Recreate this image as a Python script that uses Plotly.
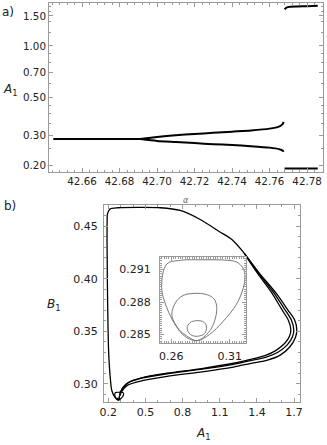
import plotly.graph_objects as go

# ---------------- data: panel a) bifurcation diagram ----------------
alpha_stable = [42.6447, 42.66, 42.68, 42.691]
A_stable = [0.284, 0.284, 0.284, 0.284]

alpha_branch = [42.691, 42.70, 42.71, 42.72, 42.73, 42.74, 42.75, 42.76, 42.765, 42.767, 42.7675]
A_upper = [0.284, 0.292, 0.299, 0.304, 0.309, 0.314, 0.319, 0.327, 0.336, 0.348, 0.358]
A_lower = [0.284, 0.277, 0.273, 0.269, 0.265, 0.262, 0.258, 0.253, 0.248, 0.243, 0.239]

alpha_jump = [42.768, 42.769, 42.771, 42.775, 42.780, 42.7857]
A_jump_high = [1.64, 1.68, 1.70, 1.705, 1.712, 1.72]
A_jump_low = [0.191, 0.191, 0.191, 0.191, 0.191, 0.191]

a_xticks = [42.66, 42.68, 42.70, 42.72, 42.74, 42.76, 42.78]
a_xticklabels = ["42.66", "42.68", "42.70", "42.72", "42.74", "42.76", "42.78"]
a_yticks = [0.2, 0.3, 0.5, 0.7, 1.0, 1.5]
a_yticklabels = ["0.20", "0.30", "0.50", "0.70", "1.00", "1.50"]

# ---------------- data: panel b) limit cycle in (A1, B1) ----------------
# outer strand, full loop
A1_loop = [0.284, 0.255, 0.228, 0.214, 0.202, 0.194, 0.190, 0.190, 0.194, 0.215, 0.280,
           0.450, 0.620, 0.780, 0.942, 1.095, 1.198, 1.298, 1.416, 1.555, 1.650, 1.705,
           1.722, 1.712, 1.665, 1.585, 1.478, 1.345, 1.210, 0.942, 0.674, 0.460, 0.353,
           0.310, 0.290, 0.284]
B1_loop = [0.2846, 0.2868, 0.2936, 0.3080, 0.3320, 0.3800, 0.4280, 0.4520, 0.4620, 0.4665, 0.4676,
           0.4679, 0.4676, 0.4650, 0.4564, 0.4450, 0.4373, 0.4242, 0.4058, 0.3862, 0.3702, 0.3606,
           0.3511, 0.3443, 0.3350, 0.3270, 0.3223, 0.3192, 0.3159, 0.3111, 0.3070, 0.3025, 0.2984,
           0.2930, 0.2880, 0.2846]

# second strand (diverges on the right side)
A1_strand2 = [1.298, 1.408, 1.536, 1.626, 1.679, 1.698, 1.688, 1.645, 1.570, 1.470, 1.340,
              1.210, 0.942, 0.674, 0.460, 0.360, 0.318, 0.298, 0.290]
B1_strand2 = [0.4242, 0.4060, 0.3868, 0.3705, 0.3605, 0.3515, 0.3450, 0.3370, 0.3300, 0.3252, 0.3218,
              0.3185, 0.3136, 0.3095, 0.3050, 0.3008, 0.2962, 0.2918, 0.2888]

# third strand (innermost on the right side)
A1_strand3 = [1.298, 1.400, 1.518, 1.602, 1.654, 1.674, 1.664, 1.625, 1.555, 1.465, 1.340,
              1.210, 0.942, 0.674, 0.460, 0.361, 0.319, 0.299, 0.291]
B1_strand3 = [0.4242, 0.4060, 0.3870, 0.3705, 0.3605, 0.3515, 0.3455, 0.3385, 0.3318, 0.3268, 0.3230,
              0.3195, 0.3142, 0.3100, 0.3054, 0.3012, 0.2966, 0.2921, 0.2890]

# loops near the minimum (shown in the inset)
A1_inset_outer = [0.2518, 0.2562, 0.2680, 0.2810, 0.2950, 0.3080, 0.3158, 0.3210, 0.3231, 0.3216,
                  0.3158, 0.3042, 0.2926, 0.2823, 0.2722, 0.2635, 0.2562, 0.2518]
B1_inset_outer = [0.28930, 0.29150, 0.29185, 0.29190, 0.29190, 0.29185, 0.29170, 0.29120, 0.29050, 0.28930,
                  0.28780, 0.28620, 0.28500, 0.28445, 0.28480, 0.28590, 0.28750, 0.28930]
A1_inset_mid = [0.2605, 0.2640, 0.2700, 0.2795, 0.2900, 0.2965, 0.2990, 0.2969, 0.2926, 0.2823,
                0.2730, 0.2664, 0.2605]
B1_inset_mid = [0.28680, 0.28800, 0.28860, 0.28880, 0.28870, 0.28830, 0.28750, 0.28620, 0.28530, 0.28445,
                0.28490, 0.28550, 0.28680]
A1_inset_small = [0.2736, 0.2760, 0.2823, 0.2880, 0.2902, 0.2885, 0.2823, 0.2765, 0.2736]
B1_inset_small = [0.28560, 0.28610, 0.28629, 0.28615, 0.28570, 0.28510, 0.28485, 0.28500, 0.28560]

b_xticks = [0.2, 0.5, 0.8, 1.1, 1.4, 1.7]
b_xticklabels = ["0.2", "0.5", "0.8", "1.1", "1.4", "1.7"]
b_yticks = [0.30, 0.35, 0.40, 0.45]
b_yticklabels = ["0.30", "0.35", "0.40", "0.45"]
inset_xticks = [0.26, 0.31]
inset_xticklabels = ["0.26", "0.31"]
inset_yticks = [0.285, 0.288, 0.291]
inset_yticklabels = ["0.285", "0.288", "0.291"]

W, H = 327, 445
FONT = "DejaVu Sans"
FRAME = "#9a9a9a"
TXT = "#222222"

fig = go.Figure()

# panel a
for xs, ys in [(alpha_stable, A_stable), (alpha_branch, A_upper), (alpha_branch, A_lower),
               (alpha_jump, A_jump_high), (alpha_jump, A_jump_low)]:
    fig.add_trace(go.Scatter(x=xs, y=ys, mode="lines", xaxis="x", yaxis="y",
                             line=dict(color="black", width=2, shape="spline", smoothing=0.6),
                             showlegend=False, hoverinfo="skip"))

# panel b
for xs, ys in [(A1_loop, B1_loop), (A1_strand2, B1_strand2), (A1_strand3, B1_strand3)]:
    fig.add_trace(go.Scatter(x=xs, y=ys, mode="lines", xaxis="x2", yaxis="y2",
                             line=dict(color="black", width=1.3, shape="spline", smoothing=0.8),
                             showlegend=False, hoverinfo="skip"))
for xs, ys in [(A1_inset_outer, B1_inset_outer), (A1_inset_small, B1_inset_small)]:
    fig.add_trace(go.Scatter(x=xs, y=ys, mode="lines", xaxis="x2", yaxis="y2",
                             line=dict(color="black", width=1.2, shape="spline", smoothing=1),
                             showlegend=False, hoverinfo="skip"))

# inset
for xs, ys in [(A1_inset_outer, B1_inset_outer), (A1_inset_mid, B1_inset_mid),
               (A1_inset_small, B1_inset_small)]:
    fig.add_trace(go.Scatter(x=xs, y=ys, mode="lines", xaxis="x3", yaxis="y3",
                             line=dict(color="#777777", width=1, shape="spline", smoothing=1),
                             showlegend=False, hoverinfo="skip"))


def ax(**kw):
    base = dict(showline=True, linecolor=FRAME, linewidth=1, mirror="allticks",
                ticks="inside", ticklen=4, tickcolor=FRAME, tickwidth=1,
                showgrid=False, zeroline=False, tickmode="array", automargin=False,
                fixedrange=True, tickfont=dict(family=FONT, size=11, color=TXT))
    base.update(kw)
    return base


def px_x(p):
    return p / W


def px_y(p):
    return 1 - p / H


fig.update_layout(
    template="none",
    width=W, height=H,
    margin=dict(l=0, r=0, t=0, b=0, pad=0),
    paper_bgcolor="white", plot_bgcolor="white",
    hovermode=False,
    xaxis=ax(domain=[px_x(49), px_x(323)], range=[42.6424, 42.7885], anchor="y",
             tickvals=a_xticks, ticktext=a_xticklabels,
             tickfont=dict(family=FONT, size=10.3, color=TXT),
             minor=dict(ticks="inside", ticklen=2, tickcolor=FRAME, dtick=0.004, tick0=42.66)),
    yaxis=ax(domain=[px_y(172), px_y(3)], type="log", range=[-0.740, 0.252], anchor="x",
             tickvals=a_yticks, ticktext=a_yticklabels,
             tickfont=dict(family=FONT, size=10.3, color=TXT),
             minor=dict(ticks="inside", ticklen=2, tickcolor=FRAME,
                        tickvals=[0.25, 0.35, 0.4, 0.45, 0.6, 0.8, 0.9, 1.2, 1.4, 1.6, 1.7])),
    xaxis2=ax(domain=[px_x(104), px_x(300)], range=[0.165, 1.748], anchor="y2",
              tickvals=b_xticks, ticktext=b_xticklabels,
              minor=dict(ticks="inside", ticklen=2, tickcolor=FRAME, dtick=0.1, tick0=0.2)),
    yaxis2=ax(domain=[px_y(402), px_y(205)], range=[0.2826, 0.4702], anchor="x2",
              tickvals=b_yticks, ticktext=b_yticklabels, ticklabelstandoff=3,
              minor=dict(ticks="inside", ticklen=2, tickcolor=FRAME, dtick=0.01, tick0=0.30)),
    xaxis3=ax(domain=[px_x(160), px_x(245.7)], range=[0.2504, 0.3237], anchor="y3",
              tickvals=inset_xticks, ticktext=inset_xticklabels, ticklabelstandoff=3,
              minor=dict(ticks="inside", ticklen=2, tickcolor=FRAME, dtick=0.002, tick0=0.26)),
    yaxis3=ax(domain=[px_y(343), px_y(256.5)], range=[0.28423, 0.2922], anchor="x3",
              tickvals=inset_yticks, ticktext=inset_yticklabels, ticklabelstandoff=6,
              minor=dict(ticks="inside", ticklen=2, tickcolor=FRAME, dtick=0.0002, tick0=0.285)),
    annotations=[
        dict(text="a)", x=px_x(0), y=px_y(12), xref="paper", yref="paper", xanchor="left",
             yanchor="middle", showarrow=False, font=dict(family=FONT, size=12, color=TXT)),
        dict(text="<i>A</i><sub>1</sub>", x=px_x(1), y=px_y(90), xref="paper", yref="paper",
             xanchor="left", yanchor="middle", showarrow=False,
             font=dict(family=FONT, size=12, color=TXT)),
        dict(text="<i>α</i>", x=px_x(186), y=px_y(200), xref="paper", yref="paper",
             xanchor="center", yanchor="middle", showarrow=False,
             font=dict(family=FONT, size=8, color="#666666")),
        dict(text="b)", x=px_x(2), y=px_y(206), xref="paper", yref="paper", xanchor="left",
             yanchor="middle", showarrow=False, font=dict(family=FONT, size=12, color=TXT)),
        dict(text="<i>B</i><sub>1</sub>", x=px_x(45), y=px_y(305), xref="paper", yref="paper",
             xanchor="left", yanchor="middle", showarrow=False,
             font=dict(family=FONT, size=12, color=TXT)),
        dict(text="<i>A</i><sub>1</sub>", x=px_x(203), y=px_y(444), xref="paper", yref="paper",
             xanchor="center", yanchor="bottom", showarrow=False,
             font=dict(family=FONT, size=12, color=TXT)),
    ],
)

# the page's default 8px body margin would shift the figure; remove it
fig.write_html("out.html", config={"displayModeBar": False, "staticPlot": True},
               post_script="document.body.style.margin='0px';")
